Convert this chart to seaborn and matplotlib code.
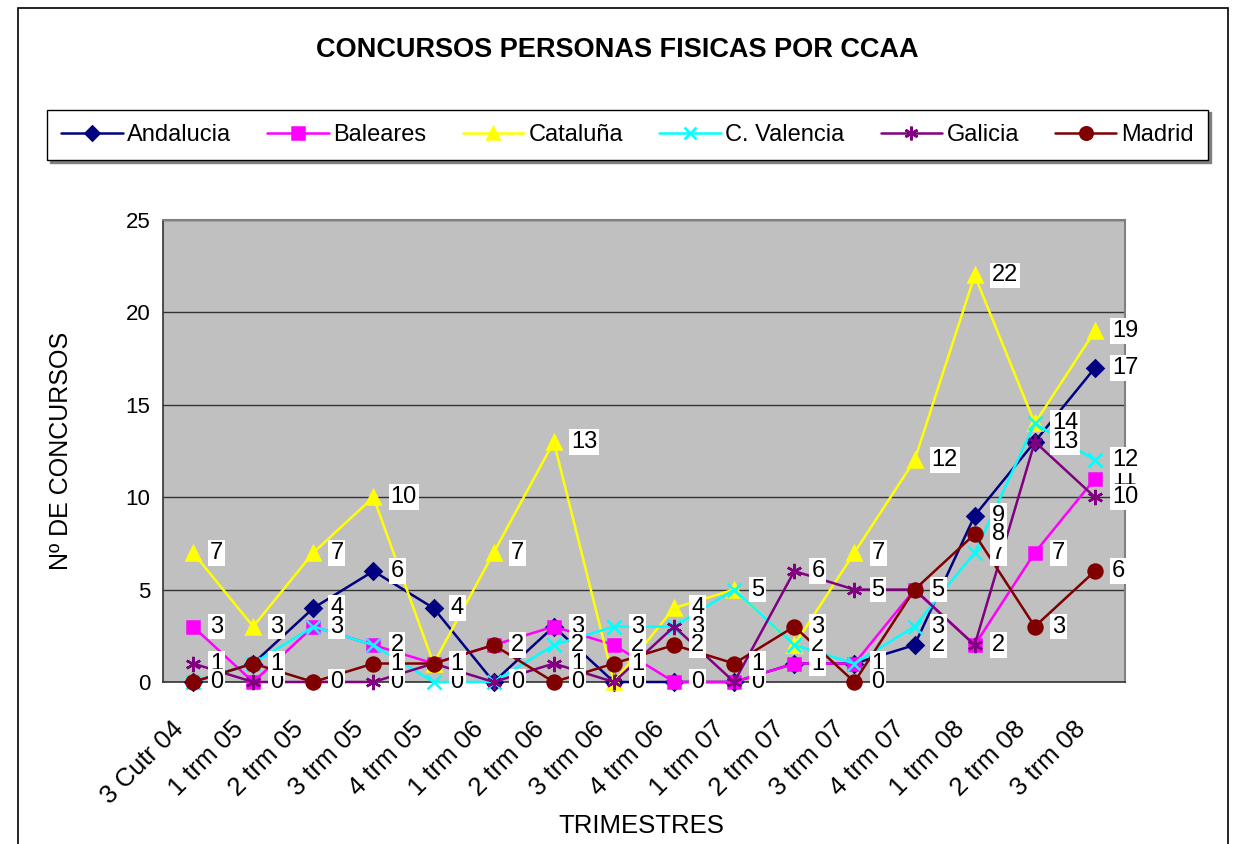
import pandas as pd
import matplotlib
matplotlib.use('Agg')
import matplotlib.pyplot as plt
import matplotlib.transforms as mtransforms
import seaborn as sns
from matplotlib.patches import Rectangle

################################################################################
# data

quarters = ['3 Cutr 04', '1 trm 05', '2 trm 05', '3 trm 05', '4 trm 05',
            '1 trm 06', '2 trm 06', '3 trm 06', '4 trm 06', '1 trm 07',
            '2 trm 07', '3 trm 07', '4 trm 07', '1 trm 08', '2 trm 08',
            '3 trm 08']

andalucia = [0, 1, 4, 6, 4, 0, 3, 0, 0, 0, 1, 1, 2, 9, 13, 17]
baleares = [3, 0, 3, 2, 1, 2, 3, 2, 0, 0, 1, 1, 5, 2, 7, 11]
cataluna = [7, 3, 7, 10, 1, 7, 13, 0, 4, 5, 2, 7, 12, 22, 14, 19]
valencia = [0, 1, 3, 2, 0, 0, 2, 3, 3, 5, 2, 1, 3, 7, 14, 12]
galicia = [1, 0, 0, 0, 1, 0, 1, 0, 3, 0, 6, 5, 5, 2, 13, 10]
madrid = [0, 1, 0, 1, 1, 2, 0, 1, 2, 1, 3, 0, 5, 8, 3, 6]

series_names = ['Andalucia', 'Baleares', 'Cataluña', 'C. Valencia',
                'Galicia', 'Madrid']
series_values = [andalucia, baleares, cataluna, valencia, galicia, madrid]

colors = ['#000080', '#FF00FF', '#FFFF00', '#00FFFF', '#800080', '#800000']
markers = ['D', 's', '^', 'x', (6, 2, 0), 'o']
marker_sizes = [8, 9, 10, 10, 11, 10]

################################################################################

rows = []
for name, values in zip(series_names, series_values):
    for i, v in enumerate(values):
        rows.append({'pos': i, 'serie': name, 'valor': v})
df = pd.DataFrame(rows)

sns.set_style('white')
plt.rcParams['font.family'] = ['Liberation Sans', 'DejaVu Sans']
plt.rcParams['text.color'] = 'black'
plt.rcParams['axes.labelcolor'] = 'black'
plt.rcParams['xtick.color'] = 'black'
plt.rcParams['ytick.color'] = 'black'

fig = plt.figure(figsize = (12.35, 8.44), dpi = 100)
ax = fig.add_axes([163 / 1235, 1 - 682 / 844, 962 / 1235, 462 / 844])
ax.set_facecolor('#C0C0C0')

for name, color, marker, ms in zip(series_names, colors, markers, marker_sizes):
    sub = df[df.serie == name]
    sns.lineplot(data = sub, x = 'pos', y = 'valor', ax = ax, color = color,
                 marker = marker, markersize = ms, linewidth = 1.8,
                 markeredgecolor = color, markeredgewidth = 1.8,
                 label = name, legend = False, zorder = 3, clip_on = False)

# data labels, drawn in series order on top of the lines
for name, values in zip(series_names, series_values):
    for i, v in enumerate(values):
        ax.annotate(str(v), xy = (i, v), xytext = (17, 0),
                    textcoords = 'offset pixels', ha = 'left', va = 'center',
                    fontsize = 17, color = 'black', zorder = 10,
                    annotation_clip = False,
                    bbox = dict(boxstyle = 'square,pad=0.08', fc = 'white',
                                ec = 'none'))

ax.set_xlim(-0.5, len(quarters) - 0.5)
ax.set_ylim(0, 25)
ax.set_yticks(range(0, 26, 5))
ax.set_xticks(range(len(quarters)))
ax.set_xticks([i + 0.5 for i in range(-1, len(quarters))], minor = True)
ax.tick_params(axis = 'x', which = 'major', length = 0, pad = 25)
ax.tick_params(axis = 'x', which = 'minor', length = 6, width = 1,
               color = '#333333', direction = 'out')
ax.tick_params(axis = 'y', length = 6, width = 1, color = '#333333',
               direction = 'out', labelsize = 16, pad = 3)
ax.set_xticklabels(quarters, rotation = 45, ha = 'right',
                   rotation_mode = 'anchor', fontsize = 18.5)
# move the slanted labels left so their ends sit just left of each point
shift = mtransforms.ScaledTranslation(-22 / 100, 0, fig.dpi_scale_trans)
for lab in ax.get_xticklabels():
    lab.set_transform(lab.get_transform() + shift)

ax.yaxis.grid(True, color = '#333333', linewidth = 1)
ax.set_axisbelow(True)
for side in ['top', 'right']:
    ax.spines[side].set_color('#808080')
    ax.spines[side].set_linewidth(1.5)
for side in ['left', 'bottom']:
    ax.spines[side].set_color('#333333')
    ax.spines[side].set_linewidth(1.2)

ax.set_xlabel('TRIMESTRES', fontsize = 18.5)
ax.set_ylabel('Nº DE CONCURSOS', fontsize = 18)
ax.xaxis.set_label_coords(0.497, -0.285)
ax.yaxis.set_label_coords(-0.094, 0.5)

fig.text(0.5, 1 - 50 / 844, 'CONCURSOS PERSONAS FISICAS POR CCAA',
         ha = 'center', va = 'center', fontsize = 19.5, fontweight = 'bold')

handles, labels = ax.get_legend_handles_labels()
leg = fig.legend(handles, labels, ncol = 6, loc = 'lower left',
                 bbox_to_anchor = (47 / 1235, 1 - 160 / 844, 1161 / 1235,
                                   59 / 844),
                 mode = 'expand', frameon = True, fancybox = False,
                 edgecolor = 'black', fontsize = 17, handlelength = 2.6,
                 handletextpad = 0.2, borderaxespad = 0, borderpad = 0.6,
                 markerscale = 0.9,
                 shadow = {'ox': 2, 'oy': -2, 'color': '#808080', 'alpha': 1})
leg.get_frame().set_linewidth(1)
leg.get_frame().set_alpha(1)

# outer chart border
fig.patches.append(Rectangle((18 / 1235, -0.02), 1210 / 1235, 1.0 - 8 / 844 + 0.02,
                             transform = fig.transFigure, fill = False,
                             edgecolor = 'black', linewidth = 1.2))

fig.savefig('out.png', dpi = 100)
